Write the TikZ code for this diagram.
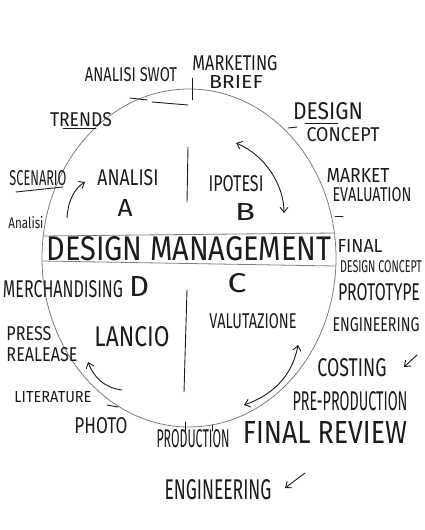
\documentclass[tikz,border=0pt]{standalone}
\usepackage{fontspec}
\setmainfont{Fira Sans}
\usepackage{graphicx}
\usetikzlibrary{arrows.meta,shapes.geometric}
\definecolor{ink}{HTML}{1C1C1C}
\definecolor{rim}{HTML}{7E7E7E}
\newcommand{\hw}[3]{\resizebox{#1pt}{#2pt}{#3}}
\begin{document}
\begin{tikzpicture}[x=1pt,y=-1pt,
  lbl/.style={inner sep=0pt, anchor=center, text=ink},
  rimline/.style={draw=rim, line width=0.8pt},
  inkline/.style={draw=ink, line width=0.9pt, line cap=round},
  arr/.style={inkline, -{Straight Barb[length=5pt,width=8pt]}},
  darr/.style={inkline, {Straight Barb[length=5pt,width=8pt]}-{Straight Barb[length=5pt,width=8pt]}},
]
\useasboundingbox[fill=white] (0,0) rectangle (425,530);

% main ring
\node[rimline, ellipse, minimum width=294pt, minimum height=338pt, inner sep=0pt] (ring) at (189,258) {};

% band
\coordinate (bTL) at (43,236);
\coordinate (bTR) at (334,233);
\coordinate (bBL) at (42,261);
\coordinate (bBR) at (335,266);
\draw[rimline] (bTL) -- (bTR);
\draw[rimline] (bBL) -- (bBR);

% dividers
\coordinate (vT1) at (188,147);
\coordinate (vT2) at (187,202);
\coordinate (vB1) at (187,290);
\coordinate (vB2) at (184,392);
\draw[inkline] (vT1) -- (vT2);
\draw[inkline] (vB1) -- (vB2);

% ticks on the ring
\coordinate (t1a) at (192,78);  \coordinate (t1b) at (192,100);
\coordinate (t2a) at (130,98);  \coordinate (t2b) at (147,100);
\coordinate (t3a) at (152,102); \coordinate (t3b) at (188,105);
\coordinate (t4a) at (288,128); \coordinate (t4b) at (297,127);
\coordinate (t5a) at (335,216); \coordinate (t5b) at (343,216);
\coordinate (t6a) at (107,405); \coordinate (t6b) at (118,407);
\coordinate (t7a) at (185,422); \coordinate (t7b) at (185,431);
\coordinate (t8a) at (212,425); \coordinate (t8b) at (212,431);
\foreach \p in {1,...,8} {\draw[inkline] (t\p a) -- (t\p b);}

% labels
\node[lbl] (mkt)    at (235,63)  {\hw{85}{15}{MARKETING}};
\node[lbl] (brief)  at (236,82)  {\hw{54}{13}{BRIEF}};
\node[lbl] (swot)   at (131,75)  {\hw{92}{14}{ANALISI SWOT}};
\node[lbl] (trends) at (81,120)  {\hw{62}{14}{TRENDS}};
\node[lbl] (dsg)    at (328,111) {\hw{70}{17}{DESIGN}};
\node[lbl] (concept) at (343,135) {\hw{73}{14}{CONCEPT}};
\node[lbl] (scen)   at (38,178)  {\hw{57}{15}{SCENARIO}};
\node[lbl] (anl)    at (26,223)  {\hw{35}{12}{Analisi}};
\node[lbl] (anA)    at (128,178) {\hw{61}{16}{ANALISI}};
\node[lbl] (lA)     at (125,208) {\hw{15}{17}{A}};
\node[lbl] (ipo)    at (236,184) {\hw{55}{16}{IPOTESI}};
\node[lbl] (lB)     at (245,212) {\hw{20}{17}{B}};
\node[lbl] (market) at (358,175) {\hw{63}{14}{MARKET}};
\node[lbl] (eval)   at (372,195) {\hw{79}{14}{EVALUATION}};
\node[lbl] (dm)     at (189,249) {\hw{285}{24}{DESIGN MANAGEMENT}};
\node[lbl] (final)  at (360,246) {\hw{45}{13}{FINAL}};
\node[lbl] (fdc)    at (381,267) {\hw{82}{12}{DESIGN CONCEPT}};
\node[lbl] (merch)  at (63,289)  {\hw{120}{17}{MERCHANDISING}};
\node[lbl] (lD)     at (139,286) {\hw{20}{20}{D}};
\node[lbl] (lC)     at (237,283) {\hw{19}{19}{C}};
\node[lbl] (proto)  at (379,292) {\hw{82}{17}{PROTOTYPE}};
\node[lbl] (valu)   at (253,321) {\hw{87}{15}{VALUTAZIONE}};
\node[lbl] (eng1)   at (376,325) {\hw{87}{14}{ENGINEERING}};
\node[lbl] (press)  at (29,334)  {\hw{45}{14}{PRESS}};
\node[lbl] (real)   at (42,355)  {\hw{71}{14}{REALEASE}};
\node[lbl] (lancio) at (132,337) {\hw{75}{20}{LANCIO}};
\node[lbl] (lit)    at (53,397)  {\hw{77}{11}{LITERATURE}};
\node[lbl] (photo)  at (101,426) {\hw{53}{16}{PHOTO}};
\node[lbl] (prod)   at (193,439) {\hw{73}{18}{PRODUCTION}};
\node[lbl] (frev)   at (325,432) {\hw{164}{22}{FINAL REVIEW}};
\node[lbl] (cost)   at (352,368) {\hw{69}{18}{COSTING}};
\node[lbl] (pre)    at (350,401) {\hw{115}{19}{PRE-PRODUCTION}};
\node[lbl] (eng2)   at (218,490) {\hw{107}{20}{ENGINEERING}};

% underlines
\coordinate (u1a) at (16,192); \coordinate (u1b) at (63,187);
\coordinate (u2a) at (63,128); \coordinate (u2b) at (96,128);
\coordinate (u3a) at (305,123); \coordinate (u3b) at (338,123);
\draw[inkline] (u1a) -- (u1b);
\draw[inkline] (u2a) -- (u2b);
\draw[inkline] (u3a) -- (u3b);

% arrows
\coordinate (a1s) at (67,218);  \coordinate (a1e) at (85,182);
\draw[arr] (a1s) .. controls (68,200) and (75,188) .. (a1e);
\coordinate (a2s) at (236,143); \coordinate (a2e) at (284,213);
\draw[darr] (a2s) .. controls (265,155) and (284,185) .. (a2e);
\coordinate (a3s) at (122,390); \coordinate (a3e) at (88,362);
\draw[arr] (a3s) .. controls (105,388) and (94,378) .. (a3e);
\coordinate (a4s) at (298,345); \coordinate (a4e) at (244,405);
\draw[darr] (a4s) .. controls (292,378) and (270,396) .. (a4e);
\coordinate (c1s) at (417,355); \coordinate (c1e) at (404,367);
\draw[arr] (c1s) -- (c1e);
\coordinate (c2s) at (305,473); \coordinate (c2e) at (285,488);
\draw[arr] (c2s) -- (c2e);
\end{tikzpicture}
\end{document}
